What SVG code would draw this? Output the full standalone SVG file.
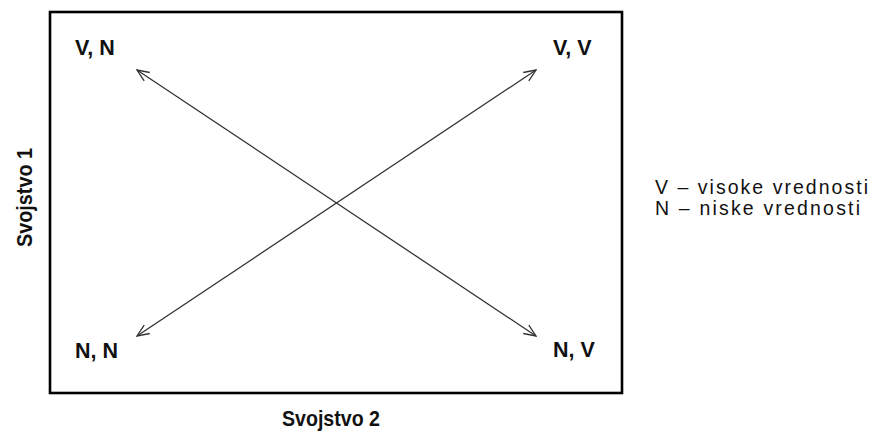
<svg xmlns="http://www.w3.org/2000/svg" width="874" height="439" viewBox="0 0 874 439">
  <style>
    .lbl { font-family: "Liberation Sans", Arial, sans-serif; font-weight: bold; font-size: 21.5px; fill: #111; }
    .leg { font-family: "Liberation Sans", Arial, sans-serif; font-size: 19.5px; fill: #111; }
    .conn { stroke: #333; stroke-width: 1.3; fill: none; marker-start: url(#arr); marker-end: url(#arr); }
  </style>
  <defs>
    <marker id="arr" viewBox="0 0 14 12" refX="13" refY="6" markerWidth="14" markerHeight="12" markerUnits="userSpaceOnUse" orient="auto-start-reverse">
      <path d="M1,1 L13,6 L1,11" fill="none" stroke="#333" stroke-width="1.3"/>
    </marker>
  </defs>
  <rect width="874" height="439" fill="#ffffff"/>
  <g id="frame">
    <rect x="50" y="12" width="572" height="381" fill="none" stroke="#000" stroke-width="2.6"/>
  </g>
  <g id="connectors">
    <line class="conn" x1="137" y1="70" x2="536" y2="336"/>
    <line class="conn" x1="137" y1="336" x2="536" y2="70"/>
  </g>
  <g id="node-vn"><text class="lbl" x="75" y="55">V, N</text></g>
  <g id="node-vv"><text class="lbl" x="553" y="55">V, V</text></g>
  <g id="node-nn"><text class="lbl" x="75" y="358">N, N</text></g>
  <g id="node-nv"><text class="lbl" x="553" y="357">N, V</text></g>
  <g id="axis-y"><text class="lbl" transform="translate(32,247) rotate(-90)" x="0" y="0" textLength="99" lengthAdjust="spacingAndGlyphs">Svojstvo 1</text></g>
  <g id="axis-x"><text class="lbl" x="282" y="426" textLength="98" lengthAdjust="spacingAndGlyphs">Svojstvo 2</text></g>
  <g id="legend">
    <text class="leg" x="655" y="194" textLength="213" lengthAdjust="spacing">V – visoke vrednosti</text>
    <text class="leg" x="655" y="215" textLength="205" lengthAdjust="spacing">N – niske vrednosti</text>
  </g>
</svg>
